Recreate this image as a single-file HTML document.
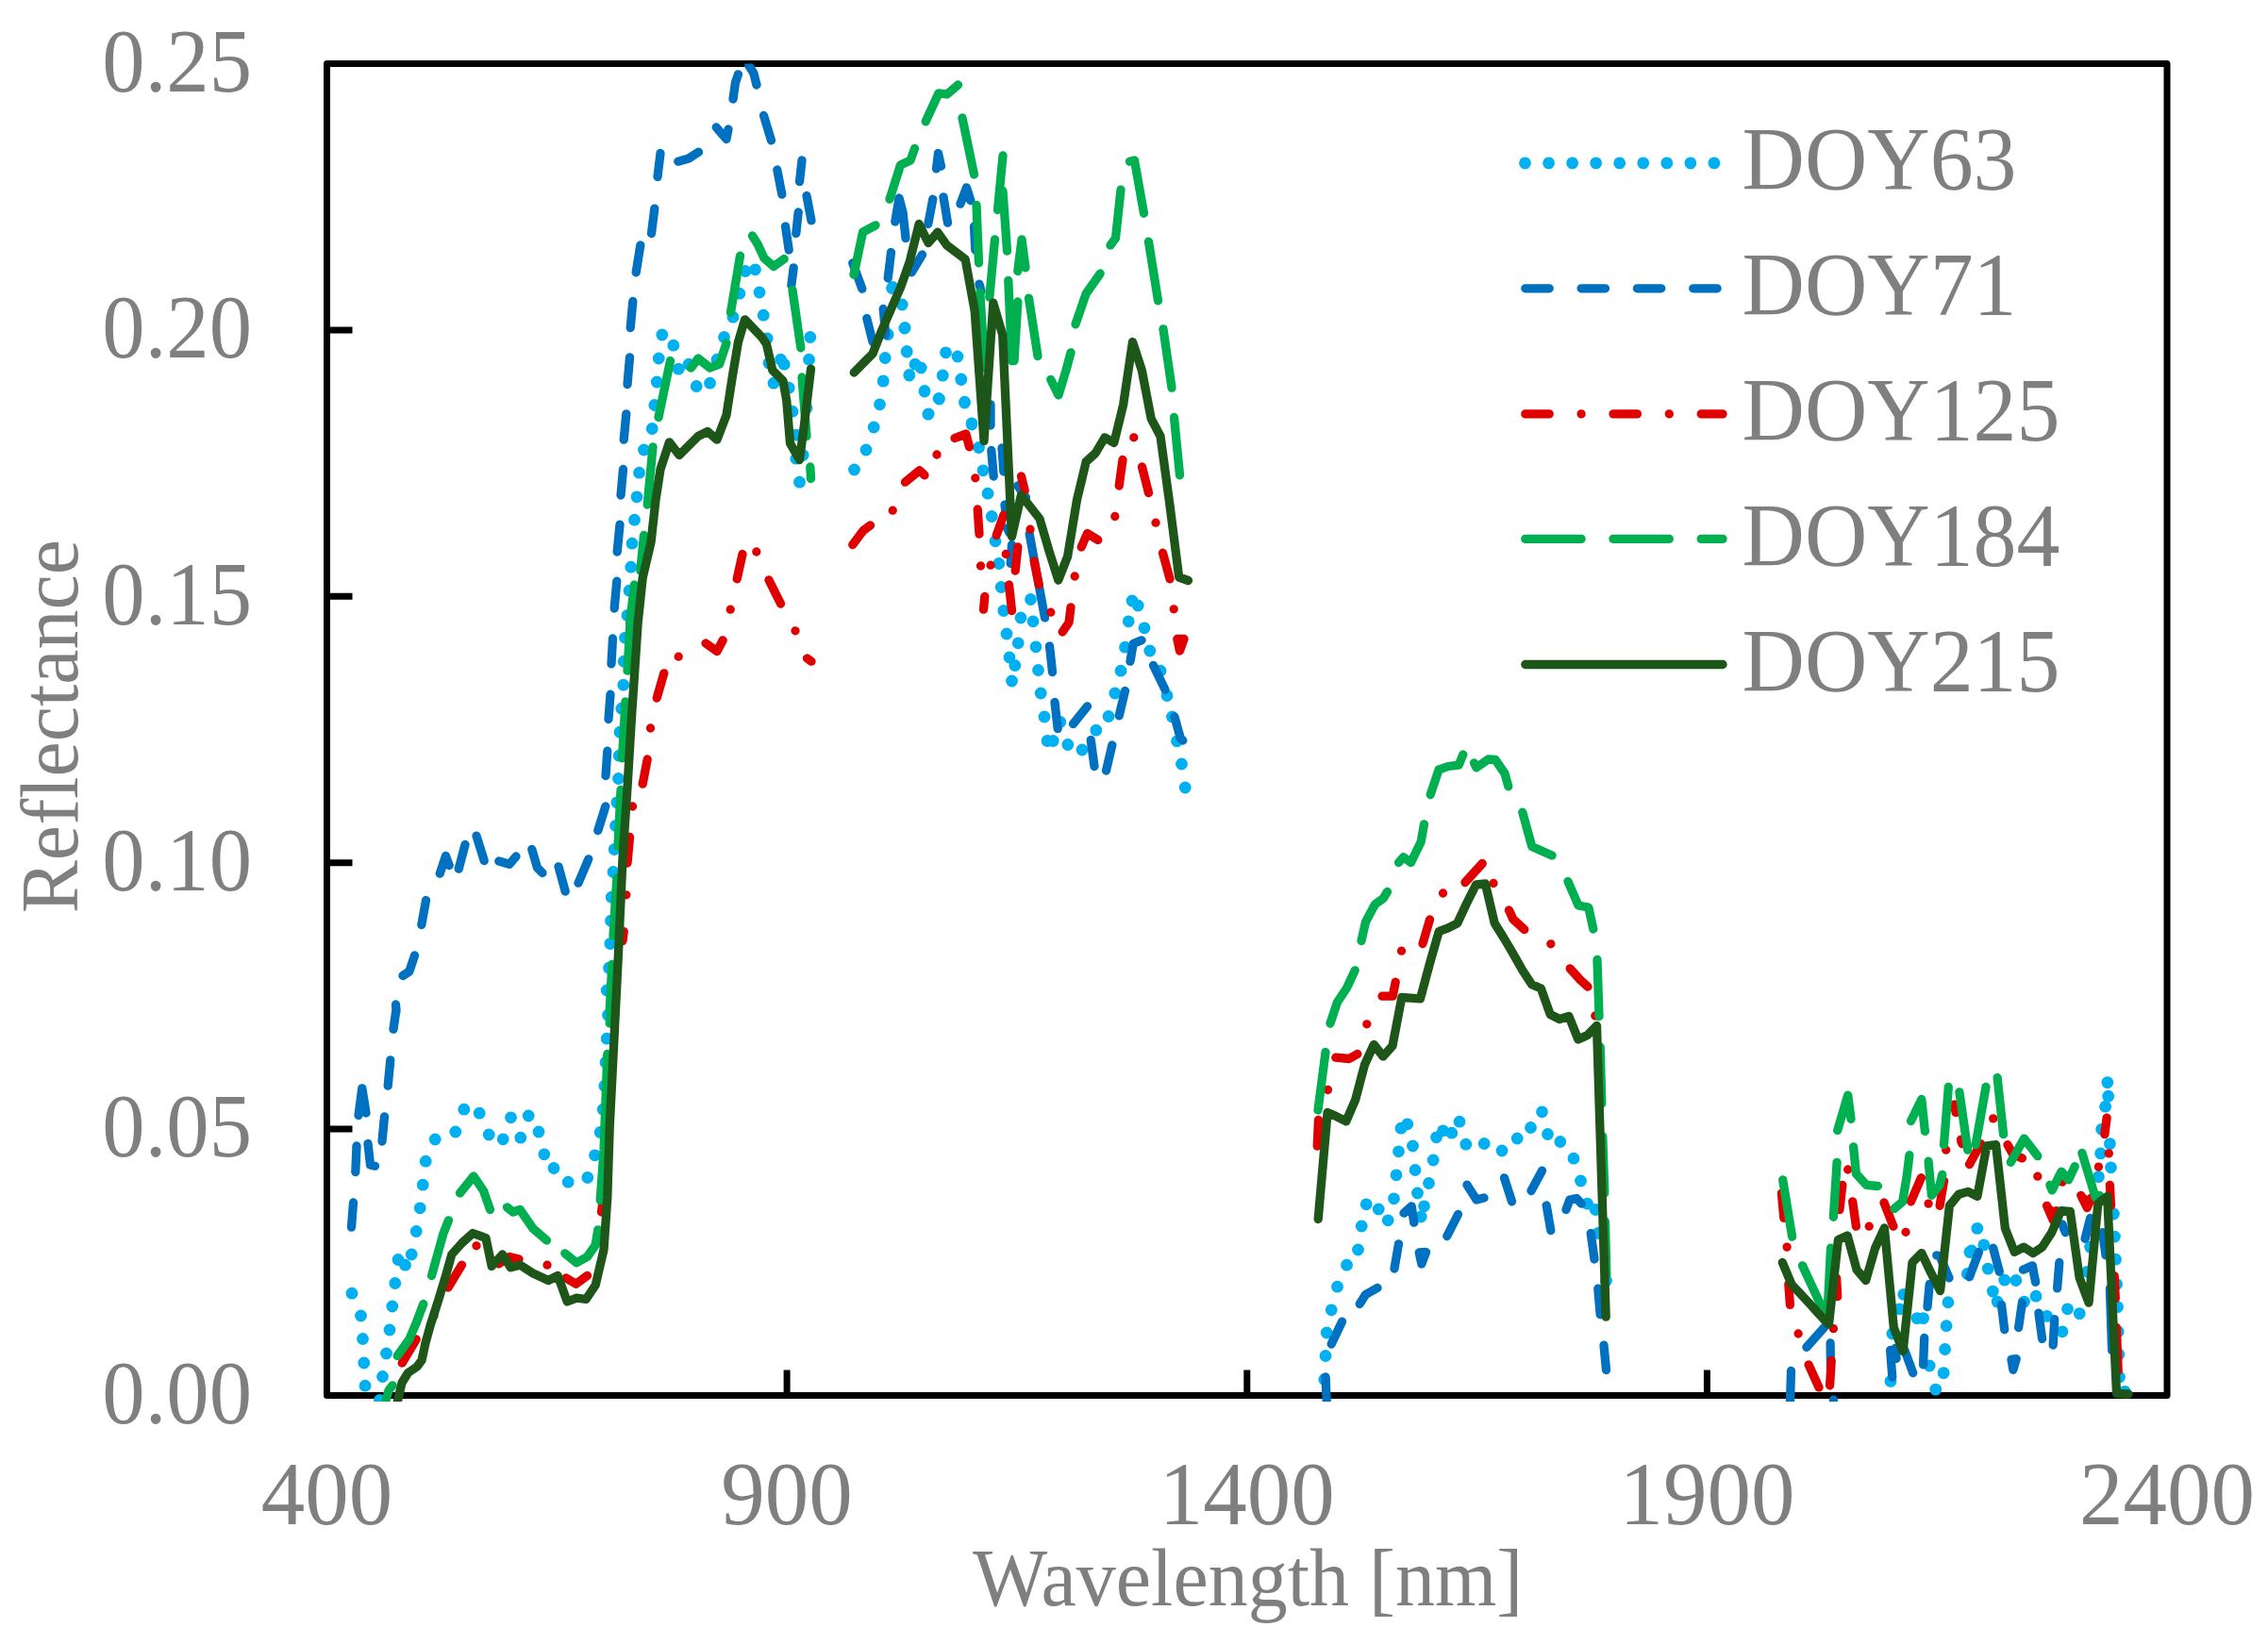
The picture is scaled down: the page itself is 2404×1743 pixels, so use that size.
<!DOCTYPE html><html><head><meta charset="utf-8"><title>Reflectance</title><style>html,body{margin:0;padding:0;background:#fff}svg{display:block}</style></head><body><svg width="2404" height="1743" viewBox="0 0 2404 1743">
<rect width="100%" height="100%" fill="#fff"/>
<defs><clipPath id="c"><rect x="340.0" y="67.5" width="1963.5" height="1418.5"/></clipPath></defs>
<path d="M346.5 1197.1h27M346.5 914.7h27M346.5 632.3h27M346.5 349.9h27M834.1 1479.5v-27M1321.8 1479.5v-27M1809.4 1479.5v-27" stroke="#000" stroke-width="7" fill="none"/>
<rect x="346.5" y="67.5" width="1950.5" height="1412.0" fill="none" stroke="#000" stroke-width="7" stroke-linejoin="round"/>
<g clip-path="url(#c)" fill="none" stroke-linecap="round" stroke-linejoin="round">
<path d="M373.0 1371.2h.01M382.5 1395.0h.01M384.5 1419.5h.01M385.8 1445.0h.01M387.0 1469.2h.01M402.5 1484.5h.01M405.5 1459.5h.01M409.5 1435.0h.01M413.0 1410.0h.01M415.8 1385.0h.01M418.8 1360.5h.01M422.0 1335.5h.01M429.5 1341.2h.01M436.2 1330.0h.01M441.2 1305.5h.01M445.2 1280.8h.01M448.2 1256.2h.01M451.2 1231.2h.01M461.2 1208.0h.01M482.8 1200.0h.01M491.8 1176.2h.01M508.2 1180.2h.01M518.2 1203.0h.01M533.2 1207.8h.01M541.5 1184.8h.01M551.8 1206.2h.01M560.2 1183.0h.01M571.0 1200.0h.01M576.8 1223.8h.01M587.0 1238.5h.01M602.2 1253.2h.01M622.8 1248.5h.01M630.5 1224.8h.01M636.2 1200.5h.01M639.2 1176.2h.01M640.8 1151.2h.01M642.0 1126.2h.01M643.2 1101.2h.01M644.5 1076.2h.01M643.2 1050.0h.01M645.5 1026.2h.01M646.8 1000.5h.01M647.5 976.2h.01M648.2 951.2h.01M650.0 924.5h.01M651.2 900.5h.01M652.5 875.5h.01M653.8 850.8h.01M655.5 825.5h.01M656.2 801.2h.01M657.0 776.2h.01M658.8 751.2h.01M660.8 726.2h.01M661.2 701.2h.01M662.5 676.2h.01M665.0 652.5h.01M667.0 626.2h.01M668.8 601.2h.01M670.0 576.2h.01M672.5 551.2h.01M675.0 526.8h.01M677.5 501.2h.01M682.5 477.0h.01M691.2 454.5h.01M693.8 429.5h.01M696.2 405.0h.01M698.2 380.0h.01M701.8 355.0h.01M713.8 366.2h.01M719.2 391.2h.01M730.0 386.2h.01M738.2 409.5h.01M752.5 406.2h.01M760.0 381.2h.01M767.5 357.5h.01M777.0 336.2h.01M783.8 311.2h.01M790.0 287.5h.01M800.5 285.8h.01M805.0 310.0h.01M809.2 334.2h.01M813.2 358.8h.01M815.0 385.0h.01M827.5 381.2h.01M831.2 386.2h.01M820.0 406.2h.01M836.2 411.2h.01M840.0 436.2h.01M843.8 461.2h.01M843.8 486.2h.01M847.5 511.2h.01M851.2 482.5h.01M855.0 432.5h.01M857.5 381.2h.01M858.8 357.5h.01M946.2 304.5h.01M956.2 323.0h.01M959.2 347.5h.01M941.2 354.5h.01M961.2 372.5h.01M938.2 379.5h.01M970.0 386.2h.01M976.2 390.0h.01M963.8 397.5h.01M936.2 403.8h.01M980.0 415.0h.01M932.5 428.8h.01M984.2 438.8h.01M1002.5 373.8h.01M1015.0 378.0h.01M999.2 398.0h.01M1018.8 402.0h.01M995.0 422.5h.01M1022.5 426.2h.01M1030.0 448.8h.01M945.5 305.5h.01M956.2 323.0h.01M958.8 348.0h.01M941.2 354.5h.01M961.2 373.0h.01M938.2 379.5h.01M970.0 386.2h.01M976.2 390.0h.01M963.8 398.0h.01M936.2 404.2h.01M980.0 414.5h.01M932.5 428.8h.01M983.8 439.2h.01M926.2 453.0h.01M918.0 477.0h.01M905.5 498.0h.01M1002.5 373.8h.01M1015.0 378.0h.01M999.2 398.2h.01M1018.8 402.5h.01M995.5 423.0h.01M1022.5 427.0h.01M1030.0 450.0h.01M1037.5 474.5h.01M1042.0 498.8h.01M1047.0 523.2h.01M1051.2 547.5h.01M1055.0 573.8h.01M1058.8 597.5h.01M1061.2 622.5h.01M1063.8 647.5h.01M1092.5 635.5h.01M1082.0 655.0h.01M1095.0 658.8h.01M1200.0 637.0h.01M1206.2 642.0h.01M1196.2 658.8h.01M1067.0 672.0h.01M1079.2 681.8h.01M1098.0 685.8h.01M1070.0 697.0h.01M1075.8 705.5h.01M1100.5 710.5h.01M1072.5 722.0h.01M1103.2 735.0h.01M1107.0 760.0h.01M1123.8 765.5h.01M1110.0 785.5h.01M1116.2 785.5h.01M1131.8 789.5h.01M1147.0 795.0h.01M1161.8 774.2h.01M1175.0 759.5h.01M1181.8 735.0h.01M1188.0 711.2h.01M1192.5 686.2h.01M1213.0 665.8h.01M1218.8 690.0h.01M1230.0 711.2h.01M1237.0 737.5h.01M1242.5 760.0h.01M1247.5 785.8h.01M1252.5 810.0h.01M1256.2 835.0h.01M1403.8 1462.5h.01M1405.0 1437.5h.01M1406.2 1413.0h.01M1411.2 1388.8h.01M1417.5 1364.2h.01M1427.5 1341.2h.01M1439.5 1325.0h.01M1443.2 1300.0h.01M1448.2 1276.8h.01M1461.2 1282.0h.01M1471.2 1293.8h.01M1477.5 1270.8h.01M1480.0 1245.8h.01M1482.5 1220.8h.01M1485.0 1196.2h.01M1491.8 1191.8h.01M1497.5 1215.0h.01M1500.0 1240.5h.01M1502.5 1265.0h.01M1509.5 1278.8h.01M1506.2 1290.0h.01M1514.5 1254.5h.01M1519.2 1230.0h.01M1522.5 1205.8h.01M1529.5 1198.8h.01M1538.8 1201.2h.01M1547.0 1189.2h.01M1553.8 1213.2h.01M1573.2 1212.5h.01M1592.0 1220.0h.01M1608.2 1207.0h.01M1622.5 1195.5h.01M1634.5 1178.8h.01M1640.5 1202.5h.01M1653.8 1210.5h.01M1668.0 1228.2h.01M1675.5 1252.0h.01M1682.5 1276.2h.01M1691.2 1282.5h.01M1693.8 1307.5h.01M1702.5 1358.0h.01M2064.9 1380.7h.01M2063.1 1405.7h.01M2061.6 1430.5h.01M2060.1 1455.6h.01M2051.7 1473.1h.01M2038.6 1397.6h.01M2032.0 1397.6h.01M2017.8 1372.4h.01M2013.4 1387.8h.01M2005.8 1414.0h.01M2004.0 1464.4h.01M2045.2 1448.0h.01M2087.9 1327.5h.01M2085.7 1350.5h.01M2233.8 1147.6h.01M2234.7 1162.2h.01M2231.6 1173.2h.01M2227.7 1197.3h.01M2236.4 1212.6h.01M2226.6 1222.9h.01M2237.5 1237.8h.01M2224.4 1247.6h.01M2240.4 1287.0h.01M2241.4 1311.1h.01M2242.5 1335.2h.01M2243.6 1361.5h.01M2244.5 1385.6h.01M2245.2 1411.8h.01M2245.8 1435.9h.01M2246.5 1460.0h.01M2252.2 1475.3h.01M2095.8 1302.4h.01M2102.8 1319.9h.01M2089.7 1326.0h.01M2107.2 1345.1h.01M2085.3 1350.5h.01M2124.7 1357.1h.01M2136.8 1357.5h.01M2112.3 1369.1h.01M2117.1 1380.1h.01M2158.0 1374.2h.01M2145.5 1380.1h.01M2191.5 1387.8h.01M2204.2 1392.6h.01M2169.6 1395.4h.01M2186.0 1411.8h.01M2212.3 1348.3h.01M2215.6 1322.1h.01" stroke="#00B0F0" stroke-width="12.8"/>
<path d="M420.0 1070.0L417.0 1091.2M413.8 1123.8L411.2 1151.2M380.0 1182.5L383.8 1153.8L388.0 1180.0M407.5 1183.8L405.0 1210.0M378.0 1215.0L376.8 1242.5M390.0 1212.5L392.5 1235.0L397.5 1236.2M374.5 1275.0L372.5 1301.2M419.5 1065.0L420.0 1072.5M427.0 1034.5L433.8 1030.0L439.5 1013.0M446.8 980.5L451.5 954.5M466.2 926.2L472.5 907.5L476.2 917.5M486.2 921.2L493.0 895.5M505.0 886.2L513.2 912.5M528.8 913.0L540.0 916.2L547.0 908.0M563.8 900.5L569.5 920.0L575.0 925.5M592.0 918.8L599.2 945.0M613.0 936.2L623.8 910.8M633.8 880.5L641.8 855.0M642.0 822.5L643.8 796.2M645.0 762.5L647.0 736.2M648.0 703.8L649.5 677.0M651.2 645.0L653.8 616.2M654.2 585.0L657.0 556.2M658.0 525.0L660.5 497.5M661.2 466.2L663.8 438.8M665.0 407.5L667.5 378.8M668.2 347.5L670.8 319.5M674.2 288.8L678.8 260.0M838.8 302.5L841.2 283.8M690.5 247.5L693.8 221.2M697.0 187.5L700.0 162.5M718.8 171.2L730.0 168.0L740.5 161.2M759.2 135.0L770.0 147.5L772.0 137.0M777.0 105.0L779.5 87.5L782.5 78.8M793.8 69.5L798.8 77.5L802.0 90.0M809.5 122.5L817.5 148.8M823.8 180.0L828.8 206.2M832.5 240.0L836.2 265.0M843.8 247.5L846.2 225.0M847.5 192.5L850.0 170.0M855.0 207.5L860.0 233.8M903.8 278.8L913.8 306.2M918.8 337.5L925.0 362.5M936.2 327.5L938.8 355.0M941.2 295.0L944.5 267.5M948.8 235.0L953.0 210.0L957.0 225.0L960.0 252.5M966.2 288.8L977.5 270.0M983.8 237.5L988.8 211.2M1000.0 208.8L1004.5 236.2M992.5 178.8L994.5 162.5L997.5 176.2M1018.0 216.2L1024.5 198.8L1028.8 212.5M1032.5 240.0L1033.8 265.0M1038.0 301.2L1040.0 308.8M1050.0 430.0L1050.0 451.0M1050.0 428.8L1050.0 447.5M1050.8 477.5L1053.2 505.0M1062.0 475.0L1063.8 500.0M1078.8 515.0L1087.5 527.5M1065.0 535.0L1066.2 545.0M1067.5 560.0L1070.0 565.0M1072.5 577.5L1071.2 597.5M1091.2 566.2L1107.5 655.0M1112.5 685.0L1115.5 712.5M1118.0 744.5L1121.2 772.5M1137.5 767.5L1152.5 748.8M1156.2 784.5L1160.0 812.5M1172.5 817.0L1178.8 790.0M1186.2 758.8L1192.5 732.5M1198.0 701.2L1201.2 682.5L1210.0 678.8M1222.5 705.5L1235.0 731.2M1245.0 760.0L1251.2 782.5L1253.8 785.0M1405.0 1460.0L1406.2 1485.0M1411.2 1425.0L1422.5 1401.2M1441.2 1382.5L1447.5 1372.5L1460.0 1365.5M1478.0 1345.0L1482.5 1318.8M1488.0 1286.2L1496.2 1278.8L1498.8 1296.2M1504.2 1328.0L1506.8 1340.0L1511.5 1327.5L1504.2 1328.0M1533.8 1310.5L1545.5 1287.5M1555.0 1256.2L1565.0 1272.0L1573.0 1270.0M1594.5 1248.8L1602.5 1273.8M1623.0 1262.5L1634.5 1241.2M1639.2 1278.0L1643.8 1304.5M1660.0 1282.5L1663.8 1272.0L1671.2 1270.5L1676.2 1276.2M1686.2 1307.5L1690.0 1335.0M1693.8 1366.2L1696.2 1393.8M1700.0 1426.2L1702.5 1452.5M1898.5 1453.4L1897.4 1488.5M1914.9 1428.3L1933.5 1407.5M1940.1 1423.9L1940.5 1453.4M1943.4 1484.1h.01M2003.6 1431.5L2005.8 1460.0M2009.0 1429.4L2010.1 1440.3M2018.9 1431.5L2027.7 1455.6M2039.7 1418.4L2038.6 1446.9M2045.2 1361.5L2043.0 1385.6M2052.8 1330.8L2056.1 1331.9L2066.0 1354.9M2087.5 1353.8L2097.4 1327.5M2112.7 1323.2L2119.3 1348.3M2144.4 1346.2L2154.3 1341.8L2157.6 1359.3M2180.6 1365.9L2182.8 1338.5M2121.5 1383.4L2124.7 1409.7M2139.6 1407.5L2143.4 1381.2M2160.9 1392.1L2164.6 1419.5M2176.2 1426.1L2177.7 1398.7M2132.0 1441.4L2133.9 1452.3L2137.2 1440.7L2132.0 1441.4M2186.0 1298.0L2189.3 1306.7M2210.1 1313.3L2215.6 1291.4M2228.7 1306.7L2232.0 1330.8M2236.4 1365.9L2238.6 1431.5" stroke="#0070C0" stroke-width="9.3"/>
<path d="M426.2 1445.0L441.2 1420.0M475.0 1365.0L489.5 1341.2M505.0 1320.8h.01M528.8 1340.0L540.0 1332.5L550.0 1335.0M580.0 1341.2h.01M600.0 1355.0L610.5 1361.2L622.5 1352.5M637.5 1285.0L638.8 1275.0M460.0 1395.0h.01M843.0 668.8h.01M855.5 698.0L860.0 701.2M748.0 682.0L760.0 690.5L766.2 678.8M719.2 696.2h.01M696.2 740.0L703.8 713.8M689.5 772.0h.01M681.2 831.2L686.2 805.0M670.5 855.0h.01M665.0 915.0L667.5 887.5M663.8 948.8h.01M661.2 987.5L660.0 997.5M781.2 613.8L787.0 587.5M801.8 585.0h.01M815.0 615.0L827.5 640.0M774.2 646.2h.01M903.8 577.5L915.0 562.5L922.5 557.0M946.2 541.2h.01M959.5 511.2L974.5 498.8L980.0 503.8M993.0 482.0h.01M1012.0 464.5L1023.8 460.0L1027.5 473.8M1033.8 506.8h.01M1036.2 540.0L1038.0 566.2M1056.2 567.5L1063.8 546.2M1082.5 505.0L1086.2 520.0M1092.0 561.2h.01M1078.8 580.0L1076.2 605.0M1066.2 587.5h.01M1039.5 600.0h.01M1050.0 599.2h.01M1096.2 595.0L1101.2 620.0M1069.5 620.0L1072.5 647.5M1043.8 632.5L1042.5 646.2M1113.8 649.2h.01M1139.2 611.0h.01M1146.2 580.0L1152.5 565.5L1163.8 572.5M1181.8 547.5h.01M1186.2 515.0L1190.0 487.5M1201.8 463.8h.01M1210.5 495.0L1217.5 522.5M1225.0 554.2h.01M1232.5 586.2L1240.0 613.8M1244.2 645.8h.01M1135.0 643.8L1133.0 660.0L1126.2 670.0M1247.8 677.5L1250.5 690.0L1255.0 677.5L1247.8 677.5M1407.5 1155.5h.01M1415.8 1121.2L1430.0 1122.5L1438.8 1117.5M1448.8 1085.8h.01M1465.0 1056.2L1476.2 1056.2L1479.2 1041.2M1485.5 1008.2h.01M1508.0 1000.5L1515.5 975.0M1529.5 947.0h.01M1553.0 935.5L1571.2 915.5M1583.0 936.5h.01M1599.5 965.0L1603.8 974.5L1615.8 985.5M1643.8 1000.8h.01M1664.2 1026.8L1675.0 1038.8L1683.0 1046.2M1690.8 1077.0h.01M1397.5 1187.5L1396.2 1215.0M1888.4 1265.1L1890.8 1291.4M1894.1 1322.1h.01M1895.8 1361.5L1897.4 1383.4M1906.1 1414.0h.01M1917.1 1446.9L1928.0 1471.0M1941.2 1442.5L1939.6 1468.8M1943.4 1408.6h.01M1946.6 1354.9L1947.7 1374.6M1952.8 1256.4L1949.9 1282.7M1958.7 1240.0h.01M1963.7 1273.9L1967.4 1300.2M1981.2 1300.2h.01M1997.0 1275.0L2006.9 1300.2M2020.0 1306.3h.01M2025.5 1273.9L2036.4 1248.7M2044.1 1276.1h.01M2056.1 1278.3L2060.5 1252.0M2062.7 1219.2h.01M2071.4 1171.0L2073.2 1179.7M2078.5 1208.2L2079.8 1212.6M2078.8 1210.4h.01M2087.5 1234.5L2099.6 1212.6M2112.7 1185.9h.01M2128.0 1213.7L2133.5 1223.5L2143.4 1227.9M2159.8 1247.2h.01M2169.6 1278.3L2176.2 1293.6L2179.5 1283.7M2172.9 1282.7L2177.3 1288.1M2186.0 1253.1h.01M2205.8 1267.3L2212.3 1280.5L2217.1 1269.5M2210.1 1271.7L2213.4 1276.1M2233.1 1185.2L2230.9 1202.7M2235.3 1222.9h.01M2224.4 1237.1h.01M2236.4 1256.4L2237.5 1278.3M2241.2 1352.7L2242.3 1376.8M2243.4 1407.5L2245.2 1453.4" stroke="#E00000" stroke-width="9.3"/>
<path d="M407.5 1490.0L412.0 1474.0L416.0 1468.8M421.2 1437.5L433.8 1420.0L441.2 1402.5L448.8 1382.5M457.5 1352.5L470.0 1307.5L475.5 1293.8M487.5 1265.0L502.0 1247.0L512.5 1262.5L519.5 1282.5M537.5 1280.0L543.8 1285.0L551.2 1282.5L565.0 1302.5L579.5 1315.0M598.8 1328.8L611.2 1338.8L622.5 1332.5L631.2 1320.0L633.8 1303.8M636.2 1272.5L640.0 1220.0L643.8 1117.5M646.2 1085.0L648.0 1070.0M646.2 1071.0L648.8 1022.5M650.0 992.5L653.8 931.2M655.0 897.5L658.0 837.5M659.5 803.8L663.0 743.8M665.0 711.2L668.0 660.0M667.5 661.0L672.5 620.0M678.8 605.0L682.5 567.5M686.2 535.0L692.0 473.8M698.0 442.5L710.5 382.5M732.5 390.0L740.0 380.0L752.5 390.0L762.5 386.2L770.0 363.8M774.5 331.2L784.5 271.2M840.0 307.5L848.8 368.8M850.0 400.0L855.0 462.5M858.8 495.0L859.5 507.5M797.5 250.0L803.0 258.8L810.0 273.8L820.0 282.5L831.2 274.5M905.0 291.2L914.5 246.2L928.0 238.8M943.0 211.2L954.5 175.0L965.0 170.0L969.5 157.5M981.2 128.8L995.0 98.8L1003.8 100.0L1015.5 90.0M1020.0 125.0L1032.5 185.0M1035.0 217.5L1037.5 278.8M1038.8 310.0L1043.8 390.0M1057.5 222.5L1063.0 165.0M1063.0 202.5L1067.5 266.2M1048.8 315.0L1054.5 253.8M1068.8 297.5L1072.5 382.5M1078.8 287.5L1083.0 253.8L1087.0 283.8M1090.5 316.2L1100.0 377.5M1075.0 382.5L1078.8 320.0M1113.8 402.5L1122.0 418.8L1130.0 392.5L1135.0 373.8M1140.0 343.8L1151.2 311.2L1166.2 290.0M1217.5 256.2L1227.5 318.8M1233.0 348.8L1242.0 411.2M1244.5 442.5L1250.5 503.8M1177.0 260.0L1182.5 252.5L1188.0 201.2M1197.5 171.2L1202.5 170.0L1212.5 226.2M1410.0 1085.0L1417.5 1062.5L1427.5 1047.5L1436.2 1028.8M1443.0 997.5L1447.5 977.5L1457.5 958.8L1466.2 952.5L1470.5 945.5M1482.5 914.5L1487.5 908.8L1495.5 914.5L1506.2 892.5L1509.5 873.8M1516.2 842.5L1525.0 816.2L1535.0 812.5L1546.2 811.2L1550.8 800.0M1562.5 808.8L1565.0 813.8L1577.5 805.0L1585.0 805.5L1595.0 820.0L1598.8 833.8M1613.8 861.2L1623.8 897.5L1645.0 907.0M1662.0 934.5L1673.0 960.0L1683.8 962.0L1688.8 985.0M1693.0 1017.5L1695.0 1077.5M1397.0 1177.0L1405.0 1115.5M1696.2 1110.0L1697.8 1170.0M1698.8 1205.0L1700.8 1265.0M1701.5 1295.0L1702.8 1352.5M1889.7 1250.9L1899.6 1311.1M1910.5 1341.8L1933.9 1392.1M1940.5 1323.2L1937.4 1385.6M1943.4 1290.3L1947.1 1232.3M1947.7 1198.4L1953.2 1179.7L1958.7 1161.1L1962.0 1186.3M1964.6 1215.9L1967.4 1244.3L1978.4 1256.4L1990.4 1257.5M2007.9 1281.6L2016.7 1273.9L2021.1 1247.6L2023.9 1224.6M2025.5 1188.5L2036.8 1165.5L2040.4 1199.4M2044.1 1231.2L2047.4 1267.3L2056.1 1256.4L2058.7 1245.4M2060.5 1213.7L2065.3 1152.4M2076.9 1157.8L2085.7 1219.2M2094.1 1213.7L2105.0 1152.4M2117.1 1142.5L2123.6 1202.7M2131.3 1232.3L2145.5 1207.1L2159.8 1225.7M2172.9 1256.4L2175.1 1261.9L2185.0 1242.1L2192.6 1250.9L2199.2 1236.7M2206.9 1222.4L2221.1 1269.5L2225.5 1267.3" stroke="#00B050" stroke-width="9.3"/>
<path d="M419.5 1494.0L426.0 1466.0L432.5 1455.5L442.0 1449.0L447.0 1442.2L451.0 1423.8L456.5 1404.0L465.0 1377.5L472.5 1352.5L478.8 1330.0L490.0 1317.5L501.2 1307.5L515.0 1312.5L521.2 1342.5L532.5 1330.0L541.2 1343.8L551.2 1341.2L565.0 1350.0L581.2 1357.5L591.2 1352.5L601.2 1380.0L611.2 1376.2L621.2 1377.5L631.2 1362.5L640.0 1325.0L643.8 1270.0L646.2 1195.0L650.0 1120.0L652.5 1070.0L655.5 1010.0L660.0 910.0L665.0 835.0L669.5 760.0L676.2 660.0L681.2 612.5L690.0 575.0L695.0 530.0L700.0 497.5L709.5 468.8L720.0 482.5L740.0 462.5L750.0 457.5L760.0 466.2L770.0 440.0L776.2 400.0L782.5 362.5L789.5 338.8L807.5 357.5L812.5 365.0L818.8 392.5L830.0 403.8L833.8 425.0L837.5 470.0L847.5 487.5L852.5 450.0L859.5 391.2M905.2 395.0L915.0 385.0L925.0 375.0L934.8 350.0L944.6 327.5L954.5 305.0L964.2 277.5L974.1 237.5L984.0 257.5L993.8 246.2L1003.6 260.0L1013.5 267.5L1023.2 275.0L1033.2 330.0L1043.0 467.5L1052.8 321.2L1062.7 355.0L1072.5 568.8L1082.4 525.0L1092.2 537.5L1102.0 550.0L1111.9 583.8L1121.8 615.0L1131.6 590.0L1141.5 530.0L1151.2 489.5L1161.1 480.5L1171.0 463.8L1180.8 469.5L1190.7 428.8L1200.5 362.5L1210.3 392.5L1220.2 443.8L1230.0 462.5L1239.9 535.0L1249.7 612.0L1259.5 615.5M1889.3 1338.5L1899.1 1361.9L1909.0 1372.4L1918.8 1382.9L1928.7 1393.9L1938.5 1404.2L1948.4 1314.4L1958.2 1310.0L1968.1 1346.2L1977.7 1357.5L1987.6 1323.2L1997.4 1301.9L2007.3 1407.5L2017.1 1432.6L2027.0 1338.5L2036.8 1328.6L2046.7 1349.4L2056.6 1368.5L2066.4 1278.3L2076.2 1266.2L2086.1 1263.4L2095.9 1268.4L2105.8 1214.8L2115.6 1213.7L2125.4 1302.4L2135.3 1327.5L2145.1 1322.1L2155.0 1328.6L2164.8 1322.1L2174.7 1306.7L2184.5 1283.7L2194.3 1284.4L2204.2 1354.9L2214.0 1381.2L2223.8 1276.1L2233.7 1268.4L2243.5 1477.5L2256.0 1478.0M1397.2 1292.5L1407.1 1179.5L1416.9 1183.8L1426.8 1188.8L1436.6 1166.2L1446.5 1128.8L1456.2 1107.5L1466.1 1120.0L1476.0 1108.8L1485.8 1057.5L1495.7 1058.2L1505.5 1058.8L1515.2 1022.5L1525.2 987.5L1535.0 983.8L1544.8 978.8L1554.7 957.5L1564.5 938.0L1574.4 937.0L1584.2 978.8L1594.0 994.5L1603.9 1011.2L1613.8 1028.8L1623.6 1043.8L1633.4 1048.0L1643.2 1075.5L1653.1 1080.5L1663.0 1077.5L1672.8 1102.0L1682.6 1097.5L1692.5 1087.5L1702.2 1396.2" stroke="#1E5619" stroke-width="9.3"/>
</g>
<g fill="none" stroke-linecap="round">
<path d="M1616.5 172.9H1831" stroke="#00B0F0" stroke-width="12.8" stroke-dasharray="0.01 25.04"/>
<path d="M1616.8 305.8H1826" stroke="#0070C0" stroke-width="9.3" stroke-dasharray="25.4 33.9"/>
<path d="M1616.8 438.9H1826" stroke="#E00000" stroke-width="9.3" stroke-dasharray="25.4 33.9 0.01 33.9"/>
<path d="M1616.8 571.4H1826" stroke="#00B050" stroke-width="9.3" stroke-dasharray="59.3 33.9"/>
<path d="M1616.8 704.5H1826" stroke="#1E5619" stroke-width="9.3"/>
</g>
<g font-family="'Liberation Serif', serif" fill="#7F7F7F" font-size="93">
<text transform="translate(267,1508.7) scale(0.975,1.035)" text-anchor="end">0.00</text>
<text transform="translate(267,1226.3) scale(0.975,1.035)" text-anchor="end">0.05</text>
<text transform="translate(267,943.9) scale(0.975,1.035)" text-anchor="end">0.10</text>
<text transform="translate(267,661.5) scale(0.975,1.035)" text-anchor="end">0.15</text>
<text transform="translate(267,379.1) scale(0.975,1.035)" text-anchor="end">0.20</text>
<text transform="translate(267,96.7) scale(0.975,1.035)" text-anchor="end">0.25</text>
<text transform="translate(346.5,1616) scale(1,1.035)" text-anchor="middle">400</text>
<text transform="translate(834.1,1616) scale(1,1.035)" text-anchor="middle">900</text>
<text transform="translate(1321.8,1616) scale(1,1.035)" text-anchor="middle">1400</text>
<text transform="translate(1809.4,1616) scale(1,1.035)" text-anchor="middle">1900</text>
<text transform="translate(2297.0,1616) scale(1,1.035)" text-anchor="middle">2400</text>
<text transform="translate(1846.6,201.2) scale(0.988,1.035)">DOY63</text>
<text transform="translate(1846.6,334.1) scale(0.988,1.035)">DOY71</text>
<text transform="translate(1846.6,467.2) scale(0.988,1.035)">DOY125</text>
<text transform="translate(1846.6,599.7) scale(0.988,1.035)">DOY184</text>
<text transform="translate(1846.6,732.8) scale(0.988,1.035)">DOY215</text>
<text transform="translate(1322.6,1702) scale(1,1.035)" text-anchor="middle" font-size="84">Wavelength [nm]</text>
<text transform="translate(82,770) rotate(-90) scale(1,1.035)" text-anchor="middle" font-size="84">Reflectance</text>
</g>
</svg></body></html>
